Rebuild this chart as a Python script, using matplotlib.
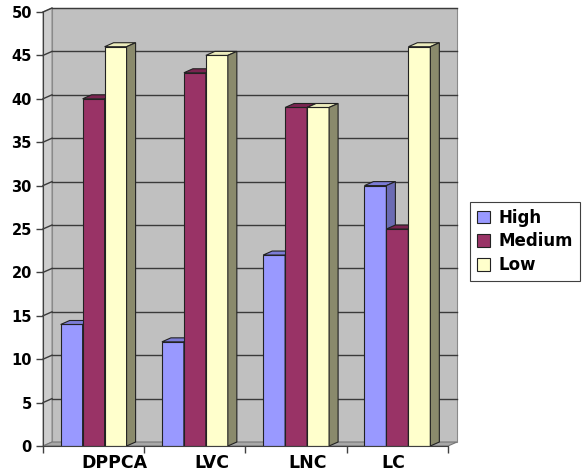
import matplotlib
matplotlib.use("Agg")
import matplotlib.pyplot as plt
import matplotlib.transforms as mtransforms
from matplotlib.patches import Polygon, Patch

categories = ["DPPCA", "LVC", "LNC", "LC"]
series = ["High", "Medium", "Low"]
high = [14, 12, 22, 30]
medium = [40, 43, 39, 25]
low = [46, 45, 39, 46]

FRONT = {"High": "#9999FF", "Medium": "#993366", "Low": "#FFFFCC"}
TOP = {"High": "#7C7CD6", "Medium": "#7A2450", "Low": "#ECECBC"}
SIDE = {"High": "#6B6BB3", "Medium": "#6B2447", "Low": "#8A8A6C"}

DX, DY = 0.089, 0.46   # fake depth in data units
BW = 0.217
YMAX = 50


def box3d(ax, x0, h, name, z):
    x1 = x0 + BW
    ax.add_patch(Polygon([(x0, 0), (x1, 0), (x1, h), (x0, h)], closed=True,
                         fc=FRONT[name], ec="#222222", lw=0.8, zorder=z))
    ax.add_patch(Polygon([(x0, h), (x1, h), (x1 + DX, h + DY), (x0 + DX, h + DY)],
                         closed=True, fc=TOP[name], ec="#222222", lw=0.8, zorder=z))
    ax.add_patch(Polygon([(x1, 0), (x1 + DX, DY), (x1 + DX, h + DY), (x1, h)],
                         closed=True, fc=SIDE[name], ec="#222222", lw=0.8, zorder=z))


def main():
    fig = plt.figure(figsize=(5.87, 4.76), dpi=100)
    ax = fig.add_axes([43 / 587, 30 / 476, 405 / 587, 434 / 476])
    xmin, xmax = -0.5, len(categories) - 0.5
    ax.set_xlim(xmin, xmax)
    ax.set_ylim(0, YMAX)
    ax.set_facecolor("none")

    # walls and floor
    ax.add_patch(Polygon([(xmin + DX, DY), (xmax + DX, DY), (xmax + DX, YMAX + DY),
                          (xmin + DX, YMAX + DY)], closed=True, fc="#C0C0C0",
                         ec="#8A8A8A", lw=0.8, zorder=0, clip_on=False))
    ax.add_patch(Polygon([(xmin, 0), (xmin + DX, DY), (xmin + DX, YMAX + DY), (xmin, YMAX)],
                         closed=True, fc="#CDCDCD", ec="#8A8A8A", lw=0.8, zorder=0,
                         clip_on=False))
    ax.add_patch(Polygon([(xmin, 0), (xmax, 0), (xmax + DX, DY), (xmin + DX, DY)],
                         closed=True, fc="#A8A8A8", ec="#777777", lw=0.8, zorder=0,
                         clip_on=False))
    for v in range(5, YMAX + 1, 5):
        ax.plot([xmin + DX, xmax + DX], [v + DY, v + DY], color="#3A3A3A", lw=1,
                zorder=0.5, clip_on=False)
        ax.plot([xmin, xmin + DX], [v, v + DY], color="#3A3A3A", lw=1,
                zorder=0.5, clip_on=False)

    values = {"High": high, "Medium": medium, "Low": low}
    z = 2
    for i in range(len(categories)):
        for k, name in enumerate(series):
            x0 = i + (k - 1) * BW - BW / 2
            box3d(ax, x0, values[name][i], name, z)
            z += 1

    for s in ["top", "right"]:
        ax.spines[s].set_visible(False)
    for s in ["left", "bottom"]:
        ax.spines[s].set_color("#404040")
        ax.spines[s].set_zorder(100)

    ax.set_yticks(range(0, YMAX + 1, 5))
    ax.tick_params(axis="y", length=5, width=1, color="#404040", pad=3)
    for lab in ax.get_yticklabels():
        lab.set_fontsize(10.5)
        lab.set_fontweight("bold")

    ax.set_xticks([i - 0.5 for i in range(len(categories) + 1)])
    ax.set_xticklabels([])
    ax.tick_params(axis="x", which="major", length=5, width=1, color="#404040")
    ax.set_xticks(range(len(categories)), minor=True)
    ax.set_xticklabels(categories, minor=True, fontsize=12.5, fontweight="bold")
    ax.tick_params(axis="x", which="minor", length=0, pad=6)
    shifts = [15, 12, 8, -3]
    for lab, sh in zip(ax.get_xticklabels(minor=True), shifts):
        lab.set_transform(lab.get_transform() +
                          mtransforms.ScaledTranslation(sh / 72, 0, fig.dpi_scale_trans))

    handles = [Patch(fc=FRONT[n], ec="#222222", lw=0.8) for n in series]
    leg = fig.legend(handles, series, loc="upper left",
                     bbox_to_anchor=(470 / 587, (476 - 202) / 476),
                     prop={"size": 12, "weight": "bold"}, fancybox=False,
                     edgecolor="#404040", framealpha=1, handlelength=0.8,
                     handleheight=0.8, handletextpad=0.5, labelspacing=0.35,
                     borderpad=0.4, borderaxespad=0)
    leg.get_frame().set_linewidth(0.8)

    fig.savefig("out.png", dpi=100)


if __name__ == "__main__":
    main()
